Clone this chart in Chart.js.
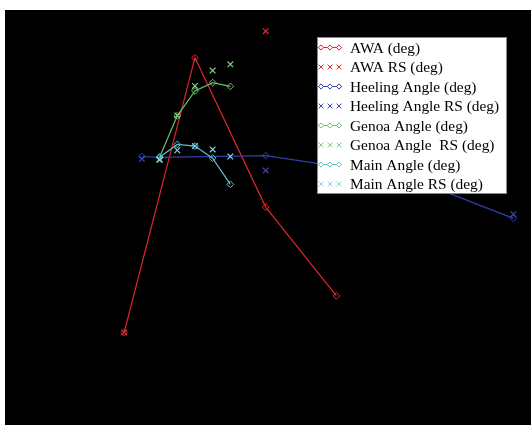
<!DOCTYPE html>
<html>
<head>
<meta charset="utf-8">
<script src="https://cdn.jsdelivr.net/npm/chart.js@4"></script>
<style>
  html, body { margin: 0; padding: 0; background: #fff; }
  #wrap { position: absolute; left: 5px; top: 10px; width: 526px; height: 415px; background: #000; }
  canvas { display: block; }
</style>
</head>
<body>
<div id="wrap"><canvas id="chart" width="526" height="415"></canvas></div>
<script>
// x positions (unlabelled in the reference) and series values in degrees
const awaX = [6, 10, 14, 18];
const awaY = [22.3, 88.5, 52.5, 31.1];
const awaRsX = [6, 14];
const awaRsY = [22.3, 94.9];

const heelX = [7, 8, 14, 22, 28];
const heelY = [64.7, 64.5, 64.9, 59.8, 49.8];
const heelRsX = [7, 8, 14, 28];
const heelRsY = [64.1, 64.0, 61.3, 50.8];

const genoaX = [8, 9, 10, 11, 12];
const genoaY = [64.5, 74.5, 80.5, 82.5, 81.6];
const genoaRsX = [8, 9, 10, 11, 12];
const genoaRsY = [64.0, 74.6, 81.7, 85.4, 86.9];

const mainX = [8, 9, 10, 11, 12];
const mainY = [64.5, 67.6, 67.2, 64.3, 58.0];
const mainRsX = [8, 9, 10, 11, 12];
const mainRsY = [63.9, 66.2, 67.2, 66.4, 64.7];

function pts(xs, ys) {
  return xs.map((x, i) => ({ x: x, y: ys[i] }));
}

function lineSet(label, xs, ys, color, idx) {
  return {
    label: label,
    data: pts(xs, ys),
    borderColor: color,
    backgroundColor: "transparent",
    borderWidth: 1.2,
    pointStyle: "rectRot",
    pointRadius: 3.4,
    pointBorderWidth: 1,
    pointBorderColor: color,
    pointBackgroundColor: "transparent",
    showLine: true,
    tension: 0,
    order: 20 - idx,
  };
}

function crossSet(label, xs, ys, color, idx) {
  return {
    label: label,
    data: pts(xs, ys),
    borderColor: color,
    backgroundColor: color,
    showLine: false,
    pointStyle: "crossRot",
    pointRadius: 4,
    pointBorderWidth: 1.2,
    pointBorderColor: color,
    order: 20 - idx,
  };
}

const datasets = [
  lineSet("AWA (deg)", awaX, awaY, "#e0262c", 0),
  crossSet("AWA RS (deg)", awaRsX, awaRsY, "#e8282e", 1),
  lineSet("Heeling Angle (deg)", heelX, heelY, "#3040a8", 2),
  crossSet("Heeling Angle RS (deg)", heelRsX, heelRsY, "#3a46b4", 3),
  lineSet("Genoa Angle (deg)", genoaX, genoaY, "#6cbf6c", 4),
  crossSet("Genoa Angle  RS (deg)", genoaRsX, genoaRsY, "#80cc80", 5),
  lineSet("Main Angle (deg)", mainX, mainY, "#5cc0c8", 6),
  crossSet("Main Angle RS (deg)", mainRsX, mainRsY, "#80d4e4", 7),
];

// --- Legend drawn inside the plot, like the original figure ---
const boxLegend = {
  id: "boxLegend",
  afterDatasetsDraw(chart, args, opts) {
    const ctx = chart.ctx;
    ctx.save();
    ctx.fillStyle = "#fff";
    ctx.fillRect(opts.left, opts.top, opts.width, opts.height);
    ctx.strokeStyle = "#888";
    ctx.lineWidth = 1;
    ctx.strokeRect(opts.left + 0.5, opts.top + 0.5, opts.width - 1, opts.height - 1);
    ctx.font = opts.font;
    ctx.textBaseline = "middle";
    chart.data.datasets.forEach((ds, i) => {
      const y = opts.top + opts.firstRow + i * opts.rowGap;
      const x0 = opts.left + opts.iconLeft;
      const x1 = x0 + opts.iconWidth;
      const color = ds.borderColor;
      ctx.strokeStyle = color;
      ctx.lineWidth = 1;
      if (ds.showLine) {
        ctx.beginPath();
        ctx.moveTo(x0, y);
        ctx.lineTo(x1, y);
        ctx.stroke();
      }
      ctx.fillStyle = "#fff";
      [x0 + 3, (x0 + x1) / 2, x1 - 3].forEach((mx) => {
        Chart.helpers.drawPoint(ctx, {
          pointStyle: ds.pointStyle,
          radius: ds.showLine ? 2.6 : 3.4,
          borderWidth: 1,
          rotation: 0,
        }, mx, y);
      });
      ctx.fillStyle = "#000";
      ctx.fillText(ds.label, opts.left + opts.textLeft, y + 1);
    });
    ctx.restore();
  },
};

new Chart(document.getElementById("chart"), {
  type: "line",
  data: { datasets: datasets },
  options: {
    responsive: false,
    animation: false,
    devicePixelRatio: 1,
    layout: { padding: 0, autoPadding: false },
    clip: false,
    scales: {
      x: { type: "linear", min: -0.74, max: 29.0, display: false },
      y: { type: "linear", min: 0, max: 100, display: false },
    },
    plugins: {
      legend: { display: false },
      tooltip: { enabled: false },
      boxLegend: {
        left: 312, top: 27, width: 190, height: 157,
        firstRow: 10.5, rowGap: 19.5,
        iconLeft: 1, iconWidth: 24, textLeft: 33,
        font: "15.4px 'Liberation Serif', 'Times New Roman', serif",
      },
    },
  },
  plugins: [boxLegend],
});
</script>
</body>
</html>
